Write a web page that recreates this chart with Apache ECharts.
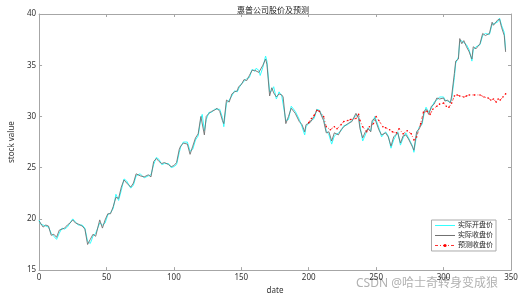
<!DOCTYPE html>
<html><head><meta charset="utf-8">
<script src="https://cdn.jsdelivr.net/npm/echarts@6/dist/echarts.min.js"></script>
<style>html,body{margin:0;padding:0;background:#fff}#c{width:525px;height:300px}</style>
</head><body><div id="c"></div>
<script>
const title = '惠普公司股价及预测';
const legendNames = ['实际开盘价', '实际收盘价', '预测收盘价'];
const xTicks = [0, 50, 100, 150, 200, 250, 300, 350];
const yTicks = [15, 20, 25, 30, 35, 40];

const dayX = [0,1,3,5,7,9,11,13,15,17,19,21,23,25,27,29,32,34,36,38,40,42,45,47,49,51,53,55,57,59,61,63,65,68,70,72,75,78,81,83,85,87,89,91,93,96,98,100,102,104,105,107,110,112,114,116,118,120,121,122.6,124,126,128,130,132,134,136,137,139,141,143,145,147,148,150,152,154,156,158,160,161,163,164,166,168,169,171,172.6,174,176,178,180,181,183,185,187,190,193,195,197,198,201,204,206,208,211,213,215,217,219,222,224,226,229,232,235,237,238,240,242,244,246,247,249,252,254,257,259,261,263,266,268,270,272,274,277,278,280,282,284,285.6,287,289,291,293,295,297,300,301,303,305,306,308,309,311,312,313.5,315,317,319,321,322,324,327,329,331,334,336,337,340,341.5,343,345,346];
const closeVals = [19.8,19.7,19.2,19.4,19.3,18.4,18.5,18.2,18.9,19.0,19.1,19.4,19.6,19.9,19.6,19.5,19.3,19.0,17.5,18.0,18.5,18.3,19.9,19.1,19.9,20.5,20.5,21.2,22.1,22.0,23.1,23.8,23.5,23.1,23.5,24.4,24.2,24.1,24.3,24.1,25.6,25.9,25.6,25.4,25.5,25.3,25.1,25.2,25.5,26.8,27.1,27.4,27.3,26.3,27.1,27.9,28.3,30.0,30.0,28.2,30.0,30.3,30.5,30.6,30.8,30.5,29.6,29.3,31.6,31.4,32.2,32.4,32.5,32.9,33.1,33.6,33.5,34.0,34.5,34.5,34.6,34.3,34.2,35.0,35.6,35.1,32.0,32.8,32.3,31.9,32.2,32.1,31.9,29.3,30.0,30.8,30.3,29.5,29.2,28.5,29.2,29.4,30.0,30.6,30.5,29.6,28.4,28.5,27.6,28.4,28.2,28.7,29.0,29.3,29.5,30.3,29.8,28.8,27.9,28.5,28.8,28.5,29.6,29.8,28.7,28.2,28.4,28.0,27.1,28.0,28.4,27.4,28.1,28.2,27.8,27.0,26.7,28.5,28.8,29.4,30.5,30.7,30.2,31.0,31.2,31.8,31.7,31.8,31.5,31.6,31.3,32.0,34.2,35.4,35.6,37.6,37.1,37.4,36.8,36.3,35.6,36.8,36.6,37.1,38.1,37.9,38.1,39.2,38.9,39.4,39.5,38.7,37.9,36.3];
const openVals = [19.9,19.5,19.4,19.3,19.2,18.6,18.3,18.0,18.6,19.1,19.0,19.2,19.6,20.0,19.7,19.4,19.4,19.1,17.8,17.6,18.3,18.6,19.6,19.4,19.6,20.4,20.6,21.0,22.4,21.8,22.8,23.9,23.7,23.0,23.3,24.2,24.4,24.0,24.2,24.3,25.3,26.0,25.8,25.3,25.4,25.4,25.0,25.1,25.3,26.5,27.0,27.5,27.5,26.6,26.8,27.7,28.1,29.8,30.2,28.6,29.7,30.4,30.4,30.7,30.7,30.7,29.9,29.0,31.3,31.6,32.0,32.5,32.4,32.7,33.2,33.4,33.7,33.8,34.6,34.4,34.7,34.5,34.0,34.8,35.9,35.4,32.4,32.5,32.9,31.7,32.4,32.0,32.1,29.6,29.7,31.0,30.5,29.7,29.0,28.2,29.0,29.5,29.8,30.7,30.6,29.8,28.6,28.2,27.3,28.1,28.4,28.6,29.1,29.2,29.6,30.1,30.1,29.1,27.6,28.2,28.9,28.6,29.3,30.0,28.9,28.0,28.5,28.1,26.9,27.7,28.5,27.2,27.9,28.4,27.9,27.1,26.5,28.2,29.0,29.2,30.3,30.9,30.4,30.8,31.4,31.6,31.9,31.9,31.6,31.5,31.4,31.7,33.8,35.2,35.8,37.3,37.4,37.2,37.0,36.5,35.4,36.5,36.8,37.0,37.9,38.1,38.0,39.0,39.1,39.2,39.6,38.9,38.2,36.5];
const predX = [200,202,204,206,208,211,213,216,219,221,224,226,229,231,235,237,238,240,243,245,248,250,252,255,257,260,262,265,267,270,273,276,278,280,283,285,288,290,292,295,297,300,302,304,306,308,310,312,315,317,319,323,327,330,333,335,337,339,340.5,342,344,346];
const predVals = [29.4,29.8,30.1,30.6,30.5,30.0,29.0,28.7,29.0,28.8,29.2,29.5,29.6,29.7,29.8,30.2,29.6,29.0,28.5,29.0,29.3,30.0,29.6,29.0,28.9,28.7,28.5,28.4,28.8,28.3,28.6,28.3,27.7,28.0,29.3,30.4,30.5,30.2,30.7,31.0,31.2,31.3,31.0,30.9,31.3,32.0,32.1,32.0,31.9,32.0,32.1,32.1,32.1,31.9,31.8,31.6,31.7,31.4,31.7,31.6,31.9,32.2];

const zip = (xs, ys) => xs.map((x, i) => [x, ys[i]]);
const font = 'Noto Sans, Noto Sans CJK SC, sans-serif';
const axisColor = '#a6a6a6';
const labelColor = '#333';

const chart = echarts.init(document.getElementById('c'), null, {renderer: 'canvas'});
const baseX = {
  type: 'value', min: xTicks[0], max: xTicks[xTicks.length - 1], interval: 50,
  axisLine: {show: true, onZero: false, lineStyle: {color: axisColor, width: 1}},
  axisTick: {show: true, inside: true, length: 3, lineStyle: {color: axisColor}},
  splitLine: {show: false}
};
const baseY = {
  type: 'value', min: yTicks[0], max: yTicks[yTicks.length - 1], interval: 5,
  axisLine: {show: true, onZero: false, lineStyle: {color: axisColor, width: 1}},
  axisTick: {show: true, inside: true, length: 3, lineStyle: {color: axisColor}},
  splitLine: {show: false}
};
chart.setOption({
  animation: false,
  backgroundColor: '#fff',
  title: {text: title, left: 268, top: 2, textAlign: 'center',
    textStyle: {fontSize: 8, fontWeight: 'normal', color: '#222', fontFamily: font}},
  grid: {left: 22, right: 14, top: 14, bottom: 26},
  legend: {
    orient: 'vertical', right: 29, top: 220,
    data: [
      {name: legendNames[0], itemStyle: {opacity: 0}},
      {name: legendNames[1], itemStyle: {opacity: 0}},
      {name: legendNames[2]}
    ],
    itemWidth: 20, itemHeight: 4, itemGap: 3,
    lineStyle: {width: 1},
    padding: [2, 3, 2, 3], borderColor: '#aaa', borderWidth: 1, backgroundColor: '#fff',
    textStyle: {fontSize: 7, color: '#222', fontFamily: font, padding: [0, 0, 0, -2]}
  },
  xAxis: [
    Object.assign({}, baseX, {position: 'bottom', name: 'date', nameLocation: 'middle', nameGap: 16,
      nameTextStyle: {fontSize: 8, color: labelColor, fontFamily: font},
      axisLabel: {fontSize: 8, color: labelColor, margin: 4, fontFamily: font}}),
    Object.assign({}, baseX, {position: 'top', axisLabel: {show: false}})
  ],
  yAxis: [
    Object.assign({}, baseY, {position: 'left', name: 'stock value', nameLocation: 'middle', nameGap: 14,
      nameTextStyle: {fontSize: 8, color: labelColor, fontFamily: font},
      axisLabel: {fontSize: 8, color: labelColor, margin: 3, fontFamily: font}}),
    Object.assign({}, baseY, {position: 'right', axisLabel: {show: false}})
  ],
  series: [
    {name: legendNames[0], type: 'line', data: zip(dayX, openVals), symbol: 'none', showSymbol: false,
      lineStyle: {color: '#33ffff', width: 1}, itemStyle: {color: '#33ffff'}, z: 2},
    {name: legendNames[1], type: 'line', data: zip(dayX, closeVals), symbol: 'none', showSymbol: false,
      lineStyle: {color: '#707070', width: 0.9}, itemStyle: {color: '#707070'}, z: 3},
    {name: legendNames[2], type: 'line', data: zip(predX, predVals), symbol: 'circle', symbolSize: 1.6, showSymbol: true,
      lineStyle: {color: '#ff3030', width: 0.8, type: [3, 2, 1, 2]}, itemStyle: {color: '#ff0000'}, z: 4}
  ],
  graphic: [
    {type: 'text', left: 356, top: 278, silent: true,
      style: {text: 'CSDN @哈士奇转身变成狼', fontSize: 12, fill: 'rgba(150,150,150,0.75)', fontFamily: font}}
  ]
});
</script></body></html>
